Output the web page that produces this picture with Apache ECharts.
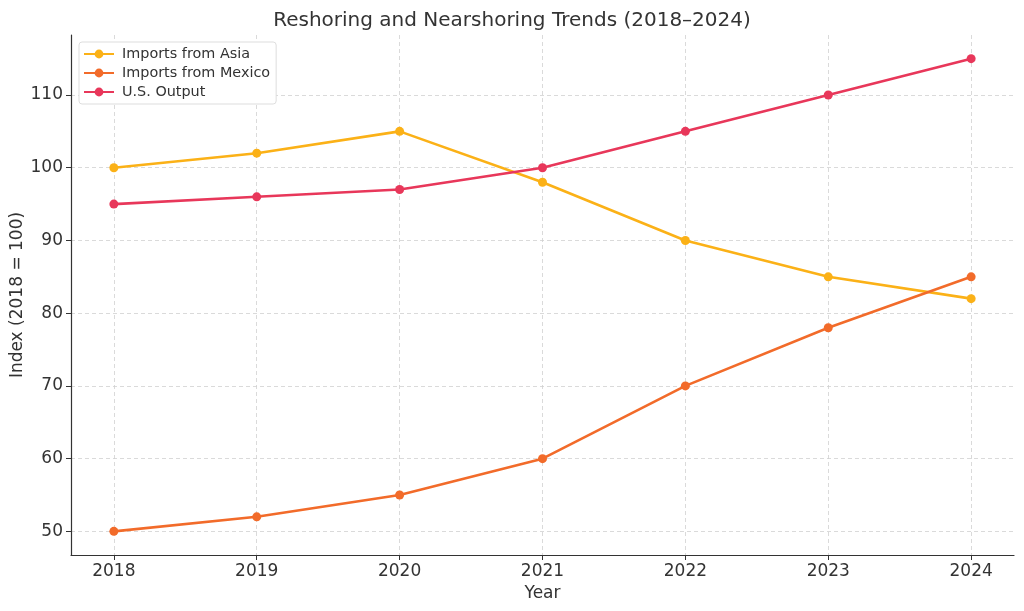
<!DOCTYPE html>
<html><head><meta charset="utf-8">
<script src="https://cdn.jsdelivr.net/npm/echarts@6/dist/echarts.min.js"></script>
<style>html,body{margin:0;padding:0;background:#fff}#c{width:1024px;height:611px}</style>
</head><body><div id="c"></div>
<script>
const years = [2018, 2019, 2020, 2021, 2022, 2023, 2024];
const asia = [100, 102, 105, 98, 90, 85, 82];
const mexico = [50, 52, 55, 60, 70, 78, 85];
const usOutput = [95, 96, 97, 100, 105, 110, 115];
const yTicks = [50, 60, 70, 80, 90, 100, 110];
const seriesNames = ['Imports from Asia', 'Imports from Mexico', 'U.S. Output'];
const colors = ['#FBB117', '#F26B2A', '#E8375A'];

const font = 'DejaVu Sans';
const chart = echarts.init(document.getElementById('c'), null, {renderer: 'canvas'});
function mk(name, vals, color) {
  return {
    name, type: 'line', data: years.map((y, i) => [y, vals[i]]),
    symbol: 'circle', symbolSize: 9, color,
    lineStyle: {width: 2.6, color}, itemStyle: {color}, z: 3
  };
}
chart.setOption({
  animation: false,
  title: {text: 'Reshoring and Nearshoring Trends (2018–2024)', left: 'center', top: 6,
    textStyle: {fontFamily: font, fontSize: 20, fontWeight: 'normal', color: '#333'}},
  grid: {left: 71, right: 10, top: 35, bottom: 56, outerBoundsMode: 'none', containLabel: false},
  legend: {
    left: 79, top: 42, orient: 'vertical', itemGap: 5, itemWidth: 30, itemHeight: 11,
    padding: [5, 6, 5, 4],
    backgroundColor: '#fff', borderColor: '#ddd', borderWidth: 1, borderRadius: 3,
    textStyle: {fontFamily: font, fontSize: 14.4, color: '#333', padding: [0, 0, 0, 3]},
    data: seriesNames
  },
  xAxis: {
    type: 'value', min: 2017.7, max: 2024.3,
    name: 'Year', nameLocation: 'middle', nameGap: 29,
    nameTextStyle: {fontFamily: font, fontSize: 17, color: '#333'},
    axisLine: {show: true, lineStyle: {color: '#333', width: 1.2}},
    axisTick: {show: true, length: 5, customValues: years, lineStyle: {color: '#333'}},
    axisLabel: {customValues: years, fontFamily: font, fontSize: 17, color: '#333', margin: 8,
      formatter: v => String(v)},
    splitLine: {show: true, lineStyle: {color: '#d0d0d0', type: [4, 3], width: 0.8}}
  },
  yAxis: {
    type: 'value', min: 46.75, max: 118.25,
    name: 'Index (2018 = 100)', nameLocation: 'middle', nameGap: 45, nameRotate: 90,
    nameMoveOverlap: false,
    nameTextStyle: {fontFamily: font, fontSize: 17, color: '#333'},
    axisLine: {show: true, lineStyle: {color: '#333', width: 1.2}},
    axisTick: {show: true, length: 5, customValues: yTicks, lineStyle: {color: '#333'}},
    axisLabel: {customValues: yTicks, fontFamily: font, fontSize: 17, color: '#333', margin: 8},
    splitLine: {show: true, lineStyle: {color: '#d0d0d0', type: [4, 3], width: 0.8}}
  },
  series: [mk(seriesNames[0], asia, colors[0]), mk(seriesNames[1], mexico, colors[1]), mk(seriesNames[2], usOutput, colors[2])]
});
</script></body></html>
